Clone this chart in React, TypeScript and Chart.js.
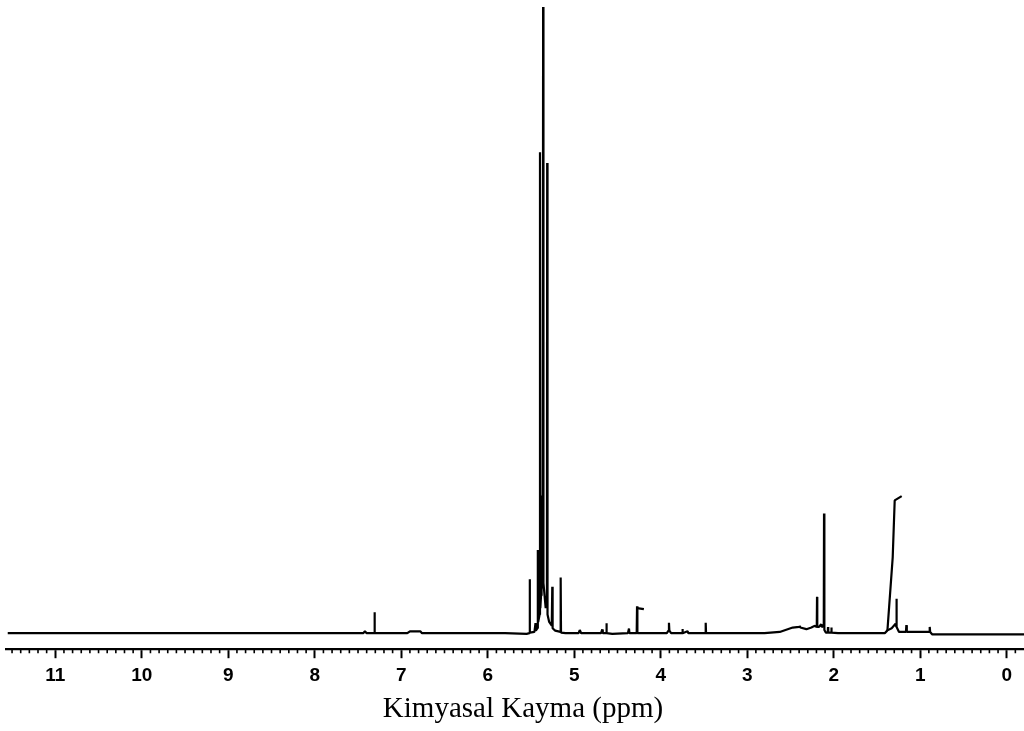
import { useEffect, useRef } from "react";
import { Chart, registerables } from "chart.js";

Chart.register(...registerables);

// Chemical shift (ppm) and relative intensity of the traced spectrum line
const shifts = [
  11.55, 9.0, 7.44, 7.42, 7.4, 7.315, 7.31, 7.305, 6.93, 6.9, 6.78, 6.76,
  5.8, 5.55, 5.518, 5.515, 5.512, 5.46, 5.448, 5.444, 5.425, 5.421, 5.417,
  5.4, 5.396, 5.392, 5.384, 5.38, 5.376, 5.364, 5.36, 5.356, 5.33, 5.316,
  5.313, 5.309, 5.29, 5.26, 5.254, 5.25, 5.22, 5.16, 5.157, 5.153, 5.1,
  4.95, 4.936, 4.92, 4.69, 4.676, 4.67, 4.632, 4.628, 4.624, 4.56, 4.38,
  4.367, 4.362, 4.278, 4.274, 4.27, 3.93, 3.91, 3.905, 3.9, 3.88, 3.752,
  3.749, 3.745, 3.69, 3.68, 3.484, 3.48, 3.476, 2.8, 2.624, 2.474, 2.4,
  2.393, 2.386, 2.316, 2.258, 2.222, 2.196, 2.193, 2.19, 2.17, 2.145, 2.14,
  2.115, 2.112, 2.108, 2.092, 2.069, 2.066, 2.063, 2.03, 2.027, 2.024, 1.95,
  1.41, 1.379, 1.33, 1.285, 1.278, 1.275, 1.271, 1.245, 1.19, 1.165, 1.16,
  1.155, 1.0, 0.895, 0.89, 0.885, 0.86, -0.2,
];
const intensities = [
  0, 0, 0, 0.3, 0, 0, 3.35, 0, 0, 0.3, 0.3, 0,
  0, -0.1, 0, 8.6, 0.1, 0.2, 1.6, 0.4, 0.8, 13.3, 1.8,
  3, 76.8, 4, 6, 22, 7, 9, 100, 8, 4, 6,
  75.1, 3, 1.8, 1.2, 7.4, 0.8, 0.4, 0.2, 8.9, 0.1, 0,
  0, 0.5, 0, 0, 0.6, 0, 0, 1.6, 0, -0.1, 0,
  0.75, 0, 0, 4.3, 0, 0, 0.4, 1.65, 0.4, 0, 0,
  0.65, 0, 0.3, 0, 0, 1.65, 0, 0, 0.2, 0.9, 1.0,
  1.17, 0.9, 0.64, 0.9, 1.17, 1.0, 5.8, 1.0, 1.0, 1.44, 1.0,
  1.2, 19.1, 0.5, 0.1, 0.1, 1.0, 0.1, 0.1, 0.9, 0.1, 0,
  0, 0.45, 0.8, 1.5, 1.1, 5.5, 1.0, 0.2, 0.2, 0.2, 1.28,
  0.2, 0.2, 0.2, 1.0, 0.2, -0.2, -0.2,
];

// Integral marks drawn over the spectrum (null = pen lifted)
const integralShifts = [4.274, 4.195, 3.0, 1.379, 1.318, 1.295, 1.214];
const integralValues = [4.0, 3.83, null, 0.45, 12.1, 21.2, 21.9];

const tickValues = [0, 1, 2, 3, 4, 5, 6, 7, 8, 9, 10, 11];
const axisTitle = "Kimyasal Kayma (ppm)";

const minorTicksPlugin = {
  id: "minorTicks",
  afterDraw(chart: any) {
    const xs = chart.scales.x;
    const ctx = chart.ctx;
    const bottom = chart.chartArea.bottom;
    ctx.save();
    ctx.strokeStyle = "#000";
    ctx.lineWidth = 1.6;
    ctx.beginPath();
    for (let i = -1; i <= 115; i++) {
      if (i % 10 === 0) continue;
      const px = xs.getPixelForValue(i / 10);
      if (px < xs.left || px > xs.right) continue;
      ctx.moveTo(px, bottom);
      ctx.lineTo(px, bottom + 4);
    }
    ctx.stroke();
    ctx.restore();
  },
};

const titlePlugin = {
  id: "axisTitleShifted",
  afterDraw(chart: any) {
    const { ctx, chartArea } = chart;
    ctx.save();
    ctx.fillStyle = "#000";
    ctx.font = '29px "Liberation Serif", "Times New Roman", serif';
    ctx.textAlign = "center";
    ctx.textBaseline = "middle";
    ctx.fillText(axisTitle, (chartArea.left + chartArea.right) / 2 + 8, chartArea.bottom + 60);
    ctx.restore();
  },
};

export default function App() {
  const ref = useRef<HTMLCanvasElement | null>(null);
  useEffect(() => {
    if (!ref.current) return;
    const chart = new Chart(ref.current, {
      type: "line",
      data: {
        datasets: [
          {
            data: shifts.map((s, i) => ({ x: s, y: intensities[i] })),
            borderColor: "#000",
            borderWidth: 2.2,
            pointRadius: 0,
            tension: 0,
            fill: false,
            borderJoinStyle: "bevel",
          },
          {
            data: integralShifts.map((s, i) => ({ x: s, y: integralValues[i] })),
            borderColor: "#000",
            borderWidth: 2.2,
            pointRadius: 0,
            tension: 0,
            fill: false,
            spanGaps: false,
            borderJoinStyle: "bevel",
          },
        ],
      },
      options: {
        responsive: false,
        animation: false,
        events: [],
        layout: { padding: { top: 7, left: 6, right: 0, bottom: 38 } },
        plugins: { legend: { display: false }, tooltip: { enabled: false } },
        scales: {
          x: {
            type: "linear",
            reverse: true,
            min: -0.2,
            max: 11.57,
            afterBuildTicks: (scale: any) => {
              scale.ticks = tickValues.map((v) => ({ value: v }));
            },
            grid: {
              drawOnChartArea: false,
              drawTicks: true,
              tickLength: 9,
              tickWidth: 2,
              tickColor: "#000",
            },
            border: { display: true, color: "#000", width: 2.2 },
            ticks: {
              autoSkip: false,
              maxRotation: 0,
              padding: 6,
              color: "#000",
              font: { family: '"Liberation Sans", Arial, sans-serif', size: 19, weight: "bold" },
              callback: (v: any) => String(v),
            },
          },
          y: { display: false, min: -2.556, max: 100 },
        },
      },
      plugins: [minorTicksPlugin, titlePlugin],
    } as any);
    return () => chart.destroy();
  }, []);
  return (
    <div style={{ position: "fixed", left: 0, top: 0, width: 1024, height: 731, background: "#fff" }}>
      <canvas ref={ref} width={1024} height={731} style={{ display: "block" }} />
    </div>
  );
}
